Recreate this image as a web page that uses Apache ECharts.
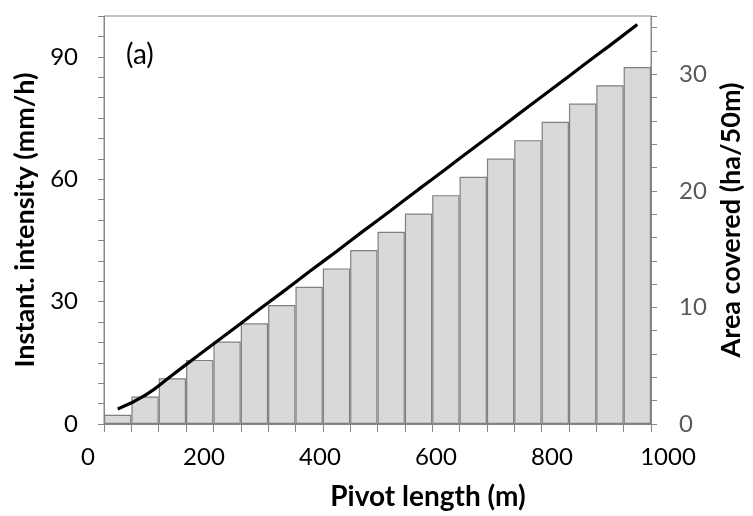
<!DOCTYPE html>
<html>
<head>
<meta charset="utf-8">
<script src="https://cdn.jsdelivr.net/npm/echarts@6/dist/echarts.min.js"></script>
<style>
  html, body { margin: 0; padding: 0; background: #fff; }
  #chart { width: 753px; height: 516px; }
</style>
</head>
<body>
<div id="chart"></div>
<script>
// bar mid-points along the pivot (m), one bar per 50 m span
const categories = ['25', '75', '125', '175', '225', '275', '325', '375', '425', '475',
  '525', '575', '625', '675', '725', '775', '825', '875', '925', '975'];
// area covered by each 50 m span (ha/50m), right axis
const areaCovered = [0.79, 2.36, 3.93, 5.50, 7.07, 8.64, 10.21, 11.78, 13.35, 14.92,
  16.49, 18.06, 19.63, 21.21, 22.78, 24.35, 25.92, 27.49, 29.06, 30.63];
// instantaneous intensity (mm/h), left axis
const intensity = [3.7, 7.0, 12.0, 17.1, 22.1, 27.2, 32.2, 37.3, 42.3, 47.4,
  52.4, 57.5, 62.5, 67.6, 72.6, 77.7, 82.7, 87.8, 92.8, 97.9];
// tick labels
const leftTicks = [0, 30, 60, 90];
const rightTicks = [0, 10, 20, 30];
const xTicks = [0, 200, 400, 600, 800, 1000];

const axisGray = '#868686';
const font = 'Lato';

const chart = echarts.init(document.getElementById('chart'));
chart.setOption({
  animation: false,
  textStyle: { fontFamily: font },
  title: {
    text: '(a)',
    left: 121,
    top: 36,
    textStyle: { fontFamily: font, fontSize: 28, fontWeight: 'normal', color: '#000' }
  },
  grid: [
    { left: 104, right: 96, top: 16, bottom: 92, show: true, borderColor: axisGray, borderWidth: 1 },
    // only carries the pivot length labels
    { left: 88, right: 85, top: 16, bottom: 92, show: false }
  ],
  xAxis: [
    {
      type: 'category',
      gridIndex: 0,
      data: categories,
      boundaryGap: true,
      axisLine: { lineStyle: { color: axisGray, width: 1 } },
      axisTick: { show: true, length: 8, alignWithLabel: false, lineStyle: { color: axisGray } },
      axisLabel: { show: false }
    },
    {
      type: 'value',
      gridIndex: 1,
      min: 0,
      max: 1000,
      interval: 200,
      axisLine: { show: false },
      axisTick: { show: false },
      splitLine: { show: false },
      axisLabel: {
        margin: 22,
        color: '#000',
        fontSize: 24,
        fontFamily: font,
        formatter: v => xTicks.includes(v) ? String(v) : ''
      },
      name: 'Pivot length (m)',
      nameLocation: 'middle',
      nameGap: 60,
      nameTextStyle: { fontSize: 28, fontWeight: 'bold', color: '#000', fontFamily: font, padding: [0, 0, 0, 100] }
    }
  ],
  yAxis: [
    {
      type: 'value',
      gridIndex: 0,
      position: 'left',
      min: 0,
      max: 100,
      interval: 5,
      axisLine: { show: true, lineStyle: { color: axisGray, width: 1 } },
      axisTick: { show: true, length: 6, lineStyle: { color: axisGray } },
      splitLine: { show: false },
      axisLabel: {
        margin: 26,
        color: '#000',
        fontSize: 24,
        fontFamily: font,
        formatter: v => leftTicks.includes(v) ? String(v) : ''
      },
      name: 'Instant. intensity (mm/h)',
      nameLocation: 'middle',
      nameGap: 60,
      nameTextStyle: { fontSize: 27, fontWeight: 'bold', color: '#000', fontFamily: font }
    },
    {
      type: 'value',
      gridIndex: 0,
      position: 'right',
      min: 0,
      max: 35,
      interval: 2,
      axisLine: { show: true, lineStyle: { color: axisGray, width: 1 } },
      axisTick: { show: true, length: 6, lineStyle: { color: axisGray } },
      splitLine: { show: false },
      axisLabel: {
        margin: 28,
        color: '#595959',
        fontSize: 24,
        fontFamily: font,
        formatter: v => rightTicks.includes(v) ? String(v) : ''
      },
      name: 'Area covered (ha/50m)',
      nameLocation: 'middle',
      nameGap: 67,
      nameTextStyle: { fontSize: 27, fontWeight: 'bold', color: '#000', fontFamily: font }
    },
    { type: 'value', gridIndex: 1, show: false }
  ],
  series: [
    {
      name: 'Area covered',
      type: 'bar',
      xAxisIndex: 0,
      yAxisIndex: 1,
      data: areaCovered,
      barCategoryGap: '0%',
      itemStyle: { color: '#d9d9d9', borderColor: '#808080', borderWidth: 1.2 }
    },
    {
      name: 'Instant. intensity',
      type: 'line',
      xAxisIndex: 0,
      yAxisIndex: 0,
      data: intensity,
      smooth: true,
      symbol: 'none',
      lineStyle: { color: '#000', width: 3.2 },
      z: 5
    }
  ]
});
</script>
</body>
</html>
